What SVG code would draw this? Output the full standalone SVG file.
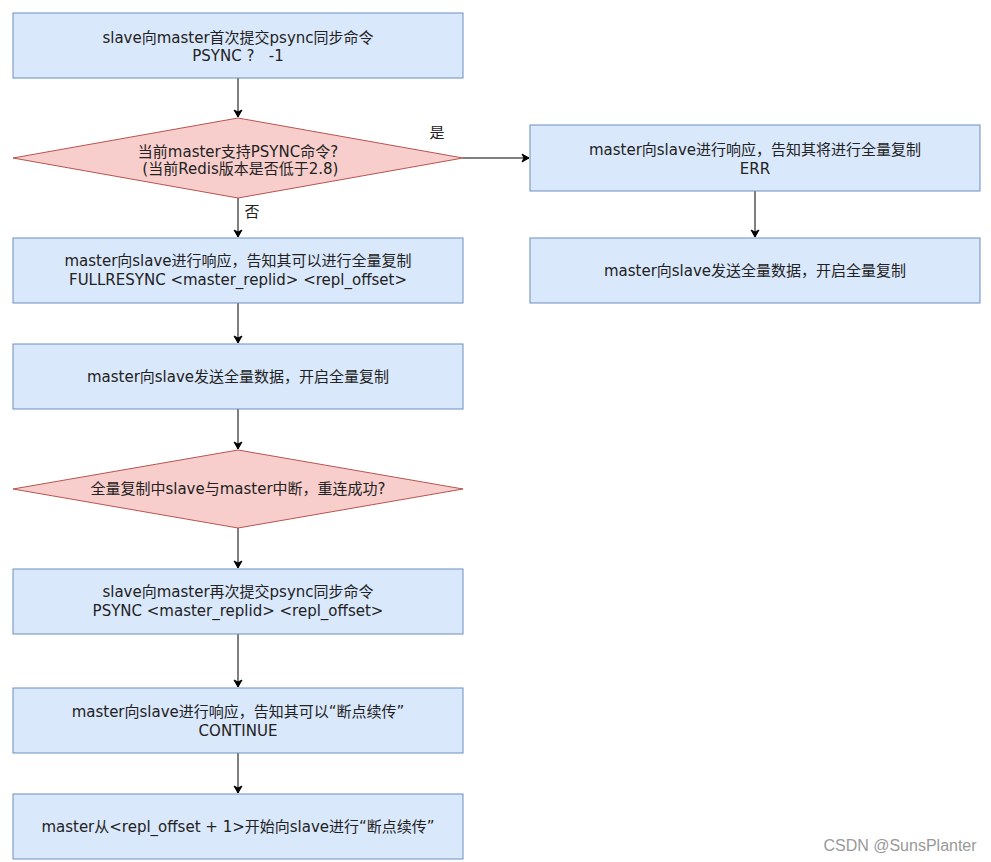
<svg xmlns="http://www.w3.org/2000/svg" width="991" height="862" viewBox="0 0 991 862">
<style>
.b{fill:#dae8fc;stroke:#6c8ebf;stroke-width:1}
.d{fill:#f8cecc;stroke:#b85450;stroke-width:1}
text{font-family:"DejaVu Sans","Noto Sans CJK SC",sans-serif;font-size:15px;fill:#222;text-anchor:middle;white-space:pre}
.e{stroke:#000;stroke-width:1;fill:none;marker-end:url(#a)}
</style>
<defs>
<marker id="a" markerWidth="10" markerHeight="10" refX="8" refY="5" orient="auto" markerUnits="userSpaceOnUse">
<path d="M1,1 L8,5 L1,9 L3,5 Z" fill="#000" stroke="#000"/>
</marker>
</defs>
<rect width="991" height="862" fill="#fff"/>
<g id="connectors">
<path class="e" d="M238,78 L238,117"/>
<path class="e" d="M238,198 L238,237"/>
<path class="e" d="M463,158 L529,158"/>
<path class="e" d="M755,191 L755,237"/>
<path class="e" d="M238,303 L238,343"/>
<path class="e" d="M238,409 L238,449"/>
<path class="e" d="M238,528 L238,568"/>
<path class="e" d="M238,634 L238,687"/>
<path class="e" d="M238,753 L238,793"/>
<text x="437" y="138">是</text>
<text x="252" y="217">否</text>
</g>
<g id="n1"><rect class="b" x="13" y="13" width="450" height="65"/><text x="238" y="43">slave向master首次提交psync同步命令</text><text x="238" y="61" xml:space="preserve">PSYNC ?   -1</text></g>
<g id="n2"><polygon class="d" points="238,118 463,158 238,198 13,158"/><text x="238" y="157">当前master支持PSYNC命令?</text><text x="238" y="174" xml:space="preserve"> (当前Redis版本是否低于2.8)</text></g>
<g id="n3"><rect class="b" x="530" y="125" width="450" height="66"/><text x="755" y="155">master向slave进行响应，告知其将进行全量复制</text><text x="755" y="174">ERR</text></g>
<g id="n4"><rect class="b" x="530" y="238" width="450" height="65"/><text x="755" y="276">master向slave发送全量数据，开启全量复制</text></g>
<g id="n5"><rect class="b" x="13" y="238" width="450" height="65"/><text x="238" y="266">master向slave进行响应，告知其可以进行全量复制</text><text x="238" y="285">FULLRESYNC &lt;master_replid&gt; &lt;repl_offset&gt;</text></g>
<g id="n6"><rect class="b" x="13" y="344" width="450" height="65"/><text x="238" y="382">master向slave发送全量数据，开启全量复制</text></g>
<g id="n7"><polygon class="d" points="238,450 463,489 238,528 13,489"/><text x="238" y="494">全量复制中slave与master中断，重连成功?</text></g>
<g id="n8"><rect class="b" x="13" y="569" width="450" height="65"/><text x="238" y="597">slave向master再次提交psync同步命令</text><text x="238" y="616">PSYNC &lt;master_replid&gt; &lt;repl_offset&gt;</text></g>
<g id="n9"><rect class="b" x="13" y="688" width="450" height="65"/><text x="238" y="717">master向slave进行响应，告知其可以“断点续传”</text><text x="238" y="736">CONTINUE</text></g>
<g id="n10"><rect class="b" x="13" y="794" width="450" height="65"/><text x="238" y="832">master从&lt;repl_offset + 1&gt;开始向slave进行“断点续传”</text></g>
<text x="900" y="851" style="font-family:'Liberation Sans',sans-serif;font-size:16px;fill:#999">CSDN @SunsPlanter</text>
</svg>
